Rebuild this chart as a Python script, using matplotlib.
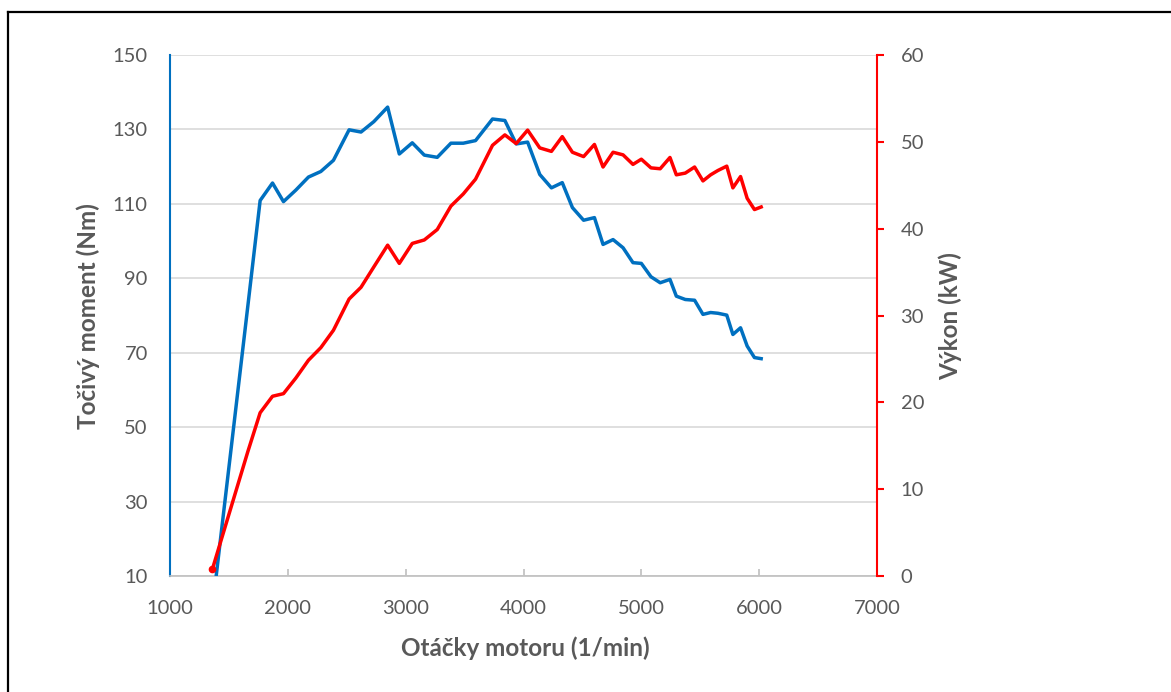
import matplotlib
matplotlib.use("Agg")
import matplotlib.pyplot as plt
from matplotlib.lines import Line2D

plt.rcParams['font.family'] = ['Lato', 'DejaVu Sans']

# Data
rpm = [1360, 1460, 1560, 1660, 1765, 1870, 1963, 2068, 2175, 2280,
       2387, 2520, 2621, 2730, 2847, 2946, 3056, 3158, 3268, 3384,
       3489, 3593, 3737, 3842, 3938, 4035, 4138, 4237, 4329, 4415,
       4510, 4602, 4675, 4760, 4845, 4929, 5000, 5082, 5160, 5243,
       5297, 5373, 5452, 5523, 5588, 5650, 5725, 5777, 5842, 5898,
       5960, 6017]
torque = [1.4, 28.4, 55.4, 82.4, 110.9, 115.6, 110.6, 113.7, 117.2, 118.7,
          121.7, 129.9, 129.3, 132.1, 136.0, 123.4, 126.4, 123.1, 122.5, 126.3,
          126.3, 127.0, 132.8, 132.4, 126.1, 126.6, 117.9, 114.3, 115.7, 109.0,
          105.6, 106.3, 99.1, 100.4, 98.2, 94.2, 94.0, 90.4, 88.8, 89.7,
          85.2, 84.3, 84.1, 80.3, 80.8, 80.6, 80.1, 74.9, 76.7, 71.8,
          68.7, 68.4]
power = [0.8, 5.3, 9.8, 14.3, 18.8, 20.7, 21.0, 22.8, 24.85, 26.3,
         28.3, 31.9, 33.25, 35.6, 38.1, 36.0, 38.3, 38.7, 39.9, 42.6,
         44.0, 45.7, 49.6, 50.8, 49.8, 51.35, 49.3, 48.9, 50.6, 48.8,
         48.3, 49.7, 47.1, 48.8, 48.5, 47.4, 48.0, 47.0, 46.9, 48.2,
         46.2, 46.4, 47.1, 45.5, 46.2, 46.7, 47.2, 44.7, 46.0, 43.5,
         42.2, 42.5]

x_ticks = [1000, 2000, 3000, 4000, 5000, 6000, 7000]
left_ticks = [10, 30, 50, 70, 90, 110, 130, 150]
right_ticks = [0, 10, 20, 30, 40, 50, 60]

BLUE = '#0070C0'
RED = '#FF0000'
GRAY_TXT = '#595959'
GRID = '#D9D9D9'

W, H = 1171, 692
fig = plt.figure(figsize=(W / 100, H / 100), dpi=100)
fig.patch.set_facecolor('white')

L, R, T, B = 170, 877, 55, 576
ax = fig.add_axes([L / W, 1 - B / H, (R - L) / W, (B - T) / H])
ax2 = ax.twinx()

ax.plot(rpm, torque, color=BLUE, lw=2.5, solid_joinstyle='round', zorder=3)
ax2.plot(rpm, power, color=RED, lw=2.5, solid_joinstyle='round',
         marker='o', markevery=[0], ms=4.5, zorder=3)

ax.set_xlim(1000, 7000)
ax.set_ylim(10, 150)
ax2.set_ylim(0, 60)
ax.set_xticks(x_ticks)
ax.set_yticks(left_ticks)
ax2.set_yticks(right_ticks)

ax.yaxis.grid(True, color=GRID, lw=1.2)
ax.set_axisbelow(True)

for a in (ax, ax2):
    a.spines['top'].set_visible(False)
    a.set_facecolor('none')
ax.spines['right'].set_visible(False)
ax2.spines['left'].set_visible(False)
ax2.spines['bottom'].set_visible(False)
ax.spines['left'].set_color(BLUE)
ax.spines['left'].set_linewidth(1.5)
ax.spines['bottom'].set_color('#BFBFBF')
ax.spines['bottom'].set_linewidth(1.2)
ax2.spines['right'].set_color(RED)
ax2.spines['right'].set_linewidth(1.5)

fs = 14.5
ax.tick_params(axis='y', length=0, pad=16, labelsize=fs, labelcolor=GRAY_TXT)
ax.tick_params(axis='x', direction='in', length=5, width=1.2, color='#BFBFBF',
               pad=17, labelsize=fs, labelcolor=GRAY_TXT)
ax2.tick_params(axis='y', direction='out', length=5, width=1.5, color=RED,
                pad=12, labelsize=fs, labelcolor=GRAY_TXT)

lab_fs = 17.5
fig.text(88 / W, 1 - 316 / H, 'Točivý moment (Nm)', rotation=90, ha='center', va='center',
         fontsize=lab_fs, fontweight='bold', color=GRAY_TXT)
fig.text(950 / W, 1 - 316 / H, 'Výkon (kW)', rotation=90, ha='center', va='center',
         fontsize=lab_fs, fontweight='bold', color=GRAY_TXT)
fig.text(525 / W, 1 - 648 / H, 'Otáčky motoru (1/min)', ha='center', va='center',
         fontsize=lab_fs, fontweight='bold', color=GRAY_TXT)

# Outer frame (only left and top edges visible in the reference)
fig.add_artist(Line2D([8 / W, 8 / W], [0, 1 - 12 / H], transform=fig.transFigure,
                      color='black', lw=1.6))
fig.add_artist(Line2D([8 / W, 1], [1 - 12 / H, 1 - 12 / H], transform=fig.transFigure,
                      color='black', lw=1.6))

fig.savefig('out.png', dpi=100, facecolor='white')
